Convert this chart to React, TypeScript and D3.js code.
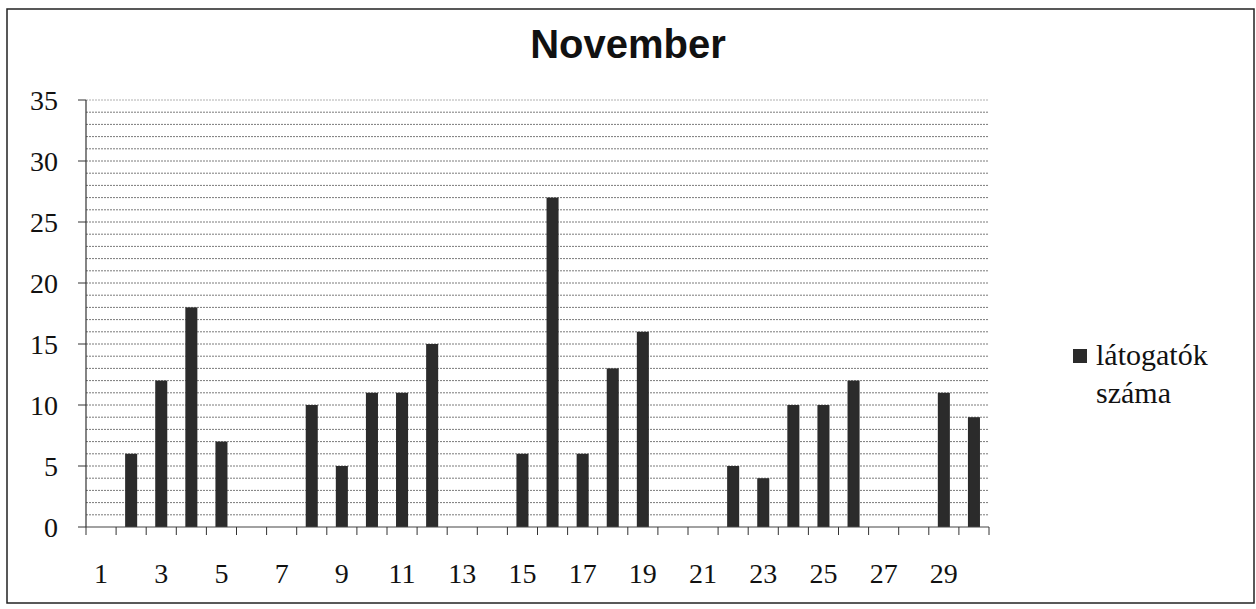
import React from "react";
import * as d3 from "d3";

const days: number[] = d3.range(1, 31);
const visitors: number[] = [0, 6, 12, 18, 7, 0, 0, 10, 5, 11, 11, 15, 0, 0, 6, 27, 6, 13, 16, 0, 0, 5, 4, 10, 10, 12, 0, 0, 11, 9];
const yTicks: number[] = [0, 5, 10, 15, 20, 25, 30, 35];
const xLabels: number[] = [1, 3, 5, 7, 9, 11, 13, 15, 17, 19, 21, 23, 25, 27, 29];
const title = "November";
const legendLines = ["látogatók", "száma"];

const W = 1256;
const H = 609;
const left = 86;
const right = 989;
const top = 100;
const bottom = 527;
const serif = "'Liberation Serif', 'Times New Roman', serif";

export default function App() {
  const x = d3.scaleBand<number>().domain(days).range([left, right]).paddingInner(0.6).paddingOuter(0.3);
  const xb = d3.scaleLinear().domain([0, days.length]).range([left, right]);
  const y = d3.scaleLinear().domain([0, 35]).range([bottom, top]);
  const minor = d3.range(1, 36);
  return (
    <svg width={W} height={H} style={{ position: "absolute", left: 0, top: 0, background: "#fff" }}>
      <rect x={7} y={9} width={1247} height={594} fill="#fff" stroke="#222" strokeWidth={1.5} />
      <text x={628} y={58} textAnchor="middle" fontFamily="'Liberation Sans', Arial, sans-serif" fontWeight="bold" fontSize={40} fill="#111">
        {title}
      </text>
      {minor.map((v) => (
        <line key={"g" + v} x1={left} x2={right} y1={y(v)} y2={y(v)} stroke={v === 35 ? "#b0b0b0" : "#7a7a7a"} strokeWidth={1} strokeDasharray="2 1" />
      ))}
      {days.map((d, i) => (
        <rect key={"b" + d} x={x(d)} y={y(visitors[i])} width={x.bandwidth()} height={bottom - y(visitors[i])} fill="#2b2b2b" />
      ))}
      <line x1={left} x2={left} y1={top} y2={bottom} stroke="#333" strokeWidth={1.2} />
      <line x1={left} x2={right} y1={bottom} y2={bottom} stroke="#444" strokeWidth={1.2} />
      {yTicks.map((t) => (
        <g key={"yt" + t}>
          <line x1={left - 8} x2={left} y1={y(t)} y2={y(t)} stroke="#333" strokeWidth={1} />
          <text x={58} y={y(t)} dy="0.35em" textAnchor="end" fontFamily={serif} fontSize={28} fill="#111">
            {t}
          </text>
        </g>
      ))}
      {d3.range(0, days.length + 1).map((i) => (
        <line key={"xt" + i} x1={xb(i)} x2={xb(i)} y1={bottom} y2={bottom + 8} stroke="#333" strokeWidth={1} />
      ))}
      {xLabels.map((d) => (
        <text key={"xl" + d} x={(x(d) ?? 0) + x.bandwidth() / 2} y={573} dy="0.35em" textAnchor="middle" fontFamily={serif} fontSize={28} fill="#111">
          {d}
        </text>
      ))}
      <rect x={1073} y={349} width={14} height={14} fill="#2b2b2b" />
      {legendLines.map((l, i) => (
        <text key={"lg" + i} x={1096} y={365 + i * 38} fontFamily={serif} fontSize={30} fill="#111">
          {l}
        </text>
      ))}
    </svg>
  );
}
